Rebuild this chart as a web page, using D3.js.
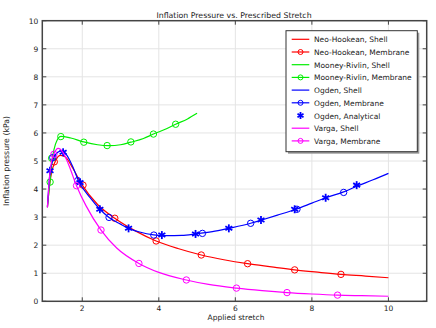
<!DOCTYPE html>
<html><head><meta charset="utf-8">
<script src="https://cdn.jsdelivr.net/npm/d3@7"></script>
<style>body{margin:0;background:#fff}svg{display:block;font-family:"DejaVu Sans",sans-serif}</style>
</head><body><svg id="c" width="436" height="328"></svg>
<script>
const xTicks=[2,4,6,8,10];
const yTicks=[0,1,2,3,4,5,6,7,8,9,10];
const neoShell=[[1.09,3.35],[1.15,4.2],[1.2,4.6],[1.29,4.97],[1.42,5.2],[1.55,5.15],[1.75,4.75],[2.0,4.14],[2.4,3.45],[2.85,2.96],[3.4,2.5],[3.93,2.15],[4.5,1.88],[5.11,1.65],[5.7,1.48],[6.32,1.34],[7,1.22],[7.55,1.12],[8.2,1.03],[8.76,0.96],[9.4,0.9],[10,0.84]];
const neoMem=[[1.27,4.97],[2.02,4.14],[2.85,2.96],[3.93,2.15],[5.11,1.65],[6.32,1.34],[7.55,1.12],[8.76,0.96]];
const mrShell=[[1.09,3.4],[1.16,4.3],[1.22,5.1],[1.3,5.6],[1.44,5.88],[1.7,5.82],[2.04,5.68],[2.4,5.58],[2.7,5.55],[3.0,5.58],[3.27,5.67],[3.6,5.8],[3.86,5.96],[4.2,6.15],[4.44,6.31],[4.75,6.5],[5.0,6.70]];
const mrMem=[[1.16,4.25],[1.2,5.1],[1.44,5.87],[2.04,5.67],[2.65,5.55],[3.27,5.68],[3.86,5.96],[4.44,6.31]];
const ogShell=[[1.09,3.35],[1.157,4.6],[1.25,5.1],[1.35,5.3],[1.48,5.37],[1.6,5.2],[1.75,4.8],[1.9,4.3],[2.2,3.7],[2.46,3.28],[2.7,2.99],[3.0,2.75],[3.21,2.6],[3.5,2.47],[3.87,2.37],[4.2,2.34],[4.6,2.35],[4.96,2.4],[5.4,2.48],[5.83,2.6],[6.4,2.78],[6.67,2.89],[7.1,3.07],[7.58,3.28],[8.0,3.5],[8.36,3.69],[8.83,3.9],[9.17,4.1],[9.6,4.33],[10,4.56]];
const ogMem=[[1.23,5.12],[1.88,4.3],[2.7,2.99],[3.87,2.36],[5.14,2.42],[6.4,2.78],[7.61,3.28],[8.83,3.88]];
const ogAna=[[1.157,4.65],[1.5,5.31],[1.94,4.23],[2.46,3.28],[3.21,2.6],[4.08,2.36],[4.96,2.4],[5.83,2.6],[6.67,2.9],[7.55,3.28],[8.36,3.69],[9.17,4.14]];
const vaShell=[[1.09,3.35],[1.15,4.5],[1.2,5.0],[1.26,5.25],[1.37,5.45],[1.5,5.3],[1.65,4.85],[1.85,4.12],[2.1,3.4],[2.49,2.54],[2.9,1.9],[3.48,1.35],[4.0,1.03],[4.72,0.76],[5.3,0.6],[6.03,0.47],[6.7,0.38],[7.35,0.31],[8.0,0.26],[8.67,0.22],[9.3,0.2],[10,0.18]];
const vaMem=[[1.26,5.24],[1.85,4.12],[2.49,2.54],[3.48,1.35],[4.72,0.76],[6.03,0.47],[7.35,0.31],[8.67,0.22]];
const labels=["Neo-Hookean, Shell","Neo-Hookean, Membrane","Mooney-Rivlin, Shell","Mooney-Rivlin, Membrane","Ogden, Shell","Ogden, Membrane","Ogden, Analytical","Varga, Shell","Varga, Membrane"];

const svg=d3.select("#c");
const L=42.3,R=426.7,T=20.7,B=301.3;
const x=d3.scaleLinear().domain([0.956,11]).range([L,R]);
const y=d3.scaleLinear().domain([0,10]).range([B,T]);
const RED="#ff0000",GREEN="#00ee00",BLUE="#0000ff",MAG="#ff00ff";

svg.append("g").selectAll("line").data(xTicks).join("line")
 .attr("x1",d=>x(d)).attr("x2",d=>x(d)).attr("y1",T).attr("y2",B).attr("stroke","#e4e4e4").attr("stroke-width",1);
svg.append("g").selectAll("line").data(yTicks.slice(1,-1)).join("line")
 .attr("y1",d=>y(d)).attr("y2",d=>y(d)).attr("x1",L).attr("x2",R).attr("stroke","#e4e4e4").attr("stroke-width",1);

const line=d3.line().x(d=>x(d[0])).y(d=>y(d[1])).curve(d3.curveMonotoneX);
const plot=svg.append("g");
function drawLine(data,c){plot.append("path").attr("d",line(data)).attr("fill","none").attr("stroke",c).attr("stroke-width",1.2);}
function drawCircles(data,c){plot.append("g").selectAll("circle").data(data).join("circle")
 .attr("cx",d=>x(d[0])).attr("cy",d=>y(d[1])).attr("r",3.2).attr("fill","none").attr("stroke",c).attr("stroke-width",1);}
function star(g,cx,cy,r,c){
 [90,30,150].forEach(a=>{const t=a*Math.PI/180;
  g.append("line").attr("x1",cx-r*Math.cos(t)).attr("y1",cy-r*Math.sin(t)).attr("x2",cx+r*Math.cos(t)).attr("y2",cy+r*Math.sin(t)).attr("stroke",c).attr("stroke-width",1.8);});
}
drawLine(neoShell,RED);drawCircles(neoMem,RED);
drawLine(mrShell,GREEN);drawCircles(mrMem,GREEN);
drawLine(ogShell,BLUE);drawCircles(ogMem,BLUE);
const sg=plot.append("g");ogAna.forEach(d=>star(sg,x(d[0]),y(d[1]),4,BLUE));
drawLine(vaShell,MAG);drawCircles(vaMem,MAG);

const ax=svg.append("g");
ax.append("rect").attr("x",L).attr("y",T).attr("width",R-L).attr("height",B-T).attr("fill","none").attr("stroke","#444").attr("stroke-width",1.5);
xTicks.forEach(t=>{
 ax.append("line").attr("x1",x(t)).attr("x2",x(t)).attr("y1",B).attr("y2",B-4).attr("stroke","#444");
 ax.append("line").attr("x1",x(t)).attr("x2",x(t)).attr("y1",T).attr("y2",T+4).attr("stroke","#444");
 ax.append("text").attr("x",x(t)).attr("y",B+10).attr("text-anchor","middle").attr("font-size",7.5).attr("fill","#222").text(t);
});
yTicks.forEach(t=>{
 ax.append("line").attr("y1",y(t)).attr("y2",y(t)).attr("x1",L).attr("x2",L+4).attr("stroke","#444");
 ax.append("line").attr("y1",y(t)).attr("y2",y(t)).attr("x1",R).attr("x2",R-4).attr("stroke","#444");
 ax.append("text").attr("x",L-4).attr("y",y(t)+3).attr("text-anchor","end").attr("font-size",7.5).attr("fill","#222").text(t);
});
svg.append("text").attr("x",234).attr("y",18).attr("text-anchor","middle").attr("font-size",7.8).attr("fill","#222").text("Inflation Pressure vs. Prescribed Stretch");
svg.append("text").attr("x",236).attr("y",320).attr("text-anchor","middle").attr("font-size",7.5).attr("fill","#222").text("Applied stretch");
svg.append("text").attr("transform","translate(9,161) rotate(-90)").attr("text-anchor","middle").attr("font-size",7.8).attr("fill","#222").text("Inflation pressure (kPa)");

const lg=svg.append("g");
const lx=286,ly=30.7,lw=131.3,lh=121;
lg.append("rect").attr("x",lx+2).attr("y",ly+2).attr("width",lw).attr("height",lh).attr("fill","#999");
lg.append("rect").attr("x",lx).attr("y",ly).attr("width",lw).attr("height",lh).attr("fill","#fff").attr("stroke","#333").attr("stroke-width",1);
const cols=[RED,RED,GREEN,GREEN,BLUE,BLUE,BLUE,MAG,MAG];
const kinds=["l","lc","l","lc","l","lc","s","l","lc"];
// measure to fit legend text width like the reference
const probe=lg.append("text").attr("font-size",8).text(labels[3]);
const w8=probe.node().getComputedTextLength();probe.remove();
const lfs=Math.min(8,8*97.7/w8);
labels.forEach((lab,i)=>{
 const yy=ly+8.6+i*12.7;
 if(kinds[i]!=="s") lg.append("line").attr("x1",291.7).attr("x2",309.3).attr("y1",yy).attr("y2",yy).attr("stroke",cols[i]).attr("stroke-width",1.2);
 if(kinds[i]==="lc") lg.append("circle").attr("cx",300.5).attr("cy",yy).attr("r",2.5).attr("fill","none").attr("stroke",cols[i]);
 if(kinds[i]==="s") star(lg,300.5,yy,3.5,cols[i]);
 lg.append("text").attr("x",314).attr("y",yy+3).attr("font-size",lfs).attr("fill","#222").text(lab);
});
</script></body></html>
